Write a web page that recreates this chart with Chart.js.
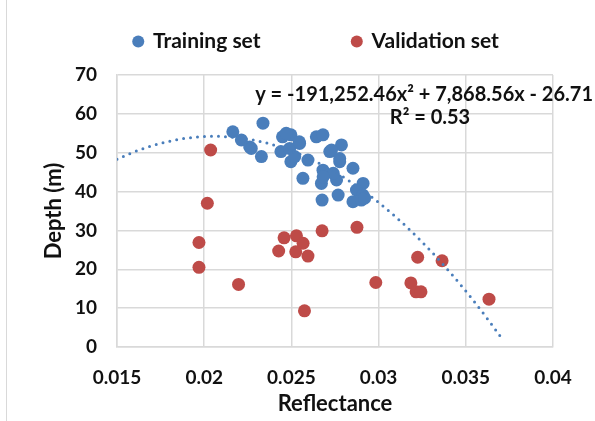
<!DOCTYPE html>
<html>
<head>
<meta charset="utf-8">
<script src="https://cdn.jsdelivr.net/npm/chart.js@4.4.1/dist/chart.umd.min.js"></script>
<style>
  html, body { margin: 0; padding: 0; background: #fff; }
  #wrap { width: 595px; height: 421px; position: relative; }
</style>
</head>
<body>
<div id="wrap"><canvas id="depthChart" width="595" height="421"></canvas></div>
<script>
// Training set (reflectance, depth)
const trainX = [0.02164, 0.02337, 0.02213, 0.02261, 0.0227, 0.02328, 0.02449, 0.02497, 0.0244, 0.0249,
    0.02547, 0.02497, 0.02595, 0.02519, 0.02643, 0.02681, 0.02787, 0.0272, 0.02566, 0.02681,
    0.02777, 0.02853, 0.02672, 0.02759, 0.02911, 0.02873, 0.02768, 0.0291, 0.02676, 0.02853,
    0.02901, 0.0274, 0.02682, 0.0273, 0.02777, 0.0247, 0.02545, 0.0292];
const trainY = [55.4, 57.6, 53.3, 51.5, 51.1, 49.0, 54.1, 54.6, 50.3, 51.1,
    52.4, 47.7, 48.1, 49.0, 54.1, 54.6, 52.0, 50.3, 43.4, 45.5,
    47.7, 46.0, 42.1, 43.0, 42.1, 40.4, 39.1, 39.1, 37.8, 37.4,
    37.8, 44.7, 43.8, 50.7, 48.5, 55.0, 52.8, 38.3];

// Validation set
const validX = [0.02037, 0.02018, 0.0197, 0.0197, 0.02197, 0.02458, 0.02529, 0.02567, 0.02427, 0.02525,
    0.02595, 0.02575, 0.02676, 0.02876, 0.02984, 0.03224, 0.03364, 0.03185, 0.03215, 0.03243, 0.03633];
const validY = [50.7, 37.0, 26.9, 20.5, 16.1, 28.1, 28.6, 26.7, 24.7, 24.5,
    23.4, 9.3, 29.9, 30.8, 16.6, 23.1, 22.2, 16.5, 14.2, 14.2, 12.3];

// Polynomial trendline as printed on the chart: a*x^2 + b*x + c
const trendCoef = [-191252.46, 7868.56, -26.71];
const trendRange = [0.015, 0.0371];

const xTicks = [0.015, 0.02, 0.025, 0.03, 0.035, 0.04];
const yTicks = [0, 10, 20, 30, 40, 50, 60, 70];

const eqText = 'y = -191,252.46x\u00B2 + 7,868.56x - 26.71';
const r2Text = 'R\u00B2 = 0.53';
const yTitle = 'Depth (m)';

const blue = '#4a7ebb';
const red = '#be4b48';
const gridCol = '#d9d9d9';
const textCol = '#111';
const fontFam = 'Lato, "Open Sans", sans-serif';
const legendGap = 92;

const toPoints = (xs, ys) => xs.map((x, i) => ({ x: x, y: ys[i] }));

const trendPts = [];
for (let i = 0; i <= 60; i++) {
    const x = trendRange[0] + (trendRange[1] - trendRange[0]) * i / 60;
    trendPts.push({ x: x, y: trendCoef[0] * x * x + trendCoef[1] * x + trendCoef[2] });
}

// legend spacing, equation label, y title, left frame line
const annotate = {
    id: 'annotate',
    beforeInit(chart) {
        const fit = chart.legend.fit;
        chart.legend.fit = function () {
            this.maxWidth = 800;  // keep both items on one row
            fit.call(this);
            this.height = 75;
        };
    },
    afterLayout(chart) {
        // the big item gap is also used vertically, pull the row back up
        chart.legend.top = 31 - legendGap;
        chart.legend.right = 800;
    },
    afterDraw(chart) {
        const ctx = chart.ctx;
        const area = chart.chartArea;
        ctx.save();
        ctx.fillStyle = textCol;
        ctx.font = 'bold 20px ' + fontFam;
        ctx.textBaseline = 'middle';
        ctx.textAlign = 'right';
        ctx.fillText(eqText, 593, 95);
        ctx.textAlign = 'center';
        ctx.fillText(r2Text, 430, 118);

        ctx.save();
        ctx.translate(54, (area.top + area.bottom) / 2);
        ctx.rotate(-Math.PI / 2);
        ctx.font = 'bold 22px ' + fontFam;
        ctx.fillText(yTitle, 0, 0);
        ctx.restore();

        ctx.strokeStyle = gridCol;
        ctx.lineWidth = 1;
        ctx.beginPath();
        ctx.moveTo(6.5, 0);
        ctx.lineTo(6.5, 421);
        ctx.stroke();
        ctx.restore();
    }
};

const ctx = document.getElementById('depthChart').getContext('2d');
const depthChart = new Chart(ctx, {
    type: 'scatter',
    data: {
        datasets: [{
            label: 'Trend',
            data: trendPts,
            showLine: true,
            pointRadius: 0,
            borderColor: blue,
            borderWidth: 3,
            borderCapStyle: 'round',
            borderDash: [0, 7],
            order: -1
        }, {
            label: 'Training set',
            data: toPoints(trainX, trainY),
            backgroundColor: blue,
            borderWidth: 0,
            pointRadius: 6.5,
            order: 1
        }, {
            label: 'Validation set',
            data: toPoints(validX, validY),
            backgroundColor: red,
            borderWidth: 0,
            pointRadius: 6.5,
            order: 0
        }]
    },
    options: {
        responsive: false,
        animation: false,
        layout: { padding: { left: 42, right: 42, top: 0, bottom: 4 } },
        plugins: {
            tooltip: { enabled: false },
            legend: {
                position: 'top',
                align: 'start',
                labels: {
                    usePointStyle: true,
                    pointStyle: 'circle',
                    boxWidth: 8.5,
                    boxHeight: 8.5,
                    padding: legendGap,
                    color: textCol,
                    font: { family: fontFam, size: 21, weight: 'bold' },
                    filter: item => item.text !== 'Trend',
                    sort: (a, b) => a.datasetIndex - b.datasetIndex
                }
            }
        },
        scales: {
            x: {
                type: 'linear',
                min: 0.015,
                max: 0.04,
                afterBuildTicks: s => { s.ticks = xTicks.map(v => ({ value: v })); },
                afterFit: s => { s.height = 70; },
                grid: { color: gridCol, lineWidth: 1.5, drawTicks: false },
                border: { color: gridCol, width: 1.5 },
                ticks: {
                    padding: 19,
                    color: textCol,
                    font: { family: fontFam, size: 19, weight: 'bold' },
                    callback: v => String(parseFloat(v.toFixed(3)))
                },
                title: {
                    display: true,
                    text: 'Reflectance',
                    color: textCol,
                    padding: { top: 4, bottom: 0 },
                    font: { family: fontFam, size: 22, weight: 'bold' }
                }
            },
            y: {
                min: 0,
                max: 70,
                afterBuildTicks: s => { s.ticks = yTicks.map(v => ({ value: v })); },
                afterFit: s => { s.width = 75; },
                grid: { color: gridCol, lineWidth: 1.5, drawTicks: false },
                border: { color: gridCol, width: 1.5 },
                ticks: {
                    padding: 20,
                    color: textCol,
                    font: { family: fontFam, size: 19, weight: 'bold' }
                }
            }
        }
    },
    plugins: [annotate]
});
</script>
</body>
</html>
